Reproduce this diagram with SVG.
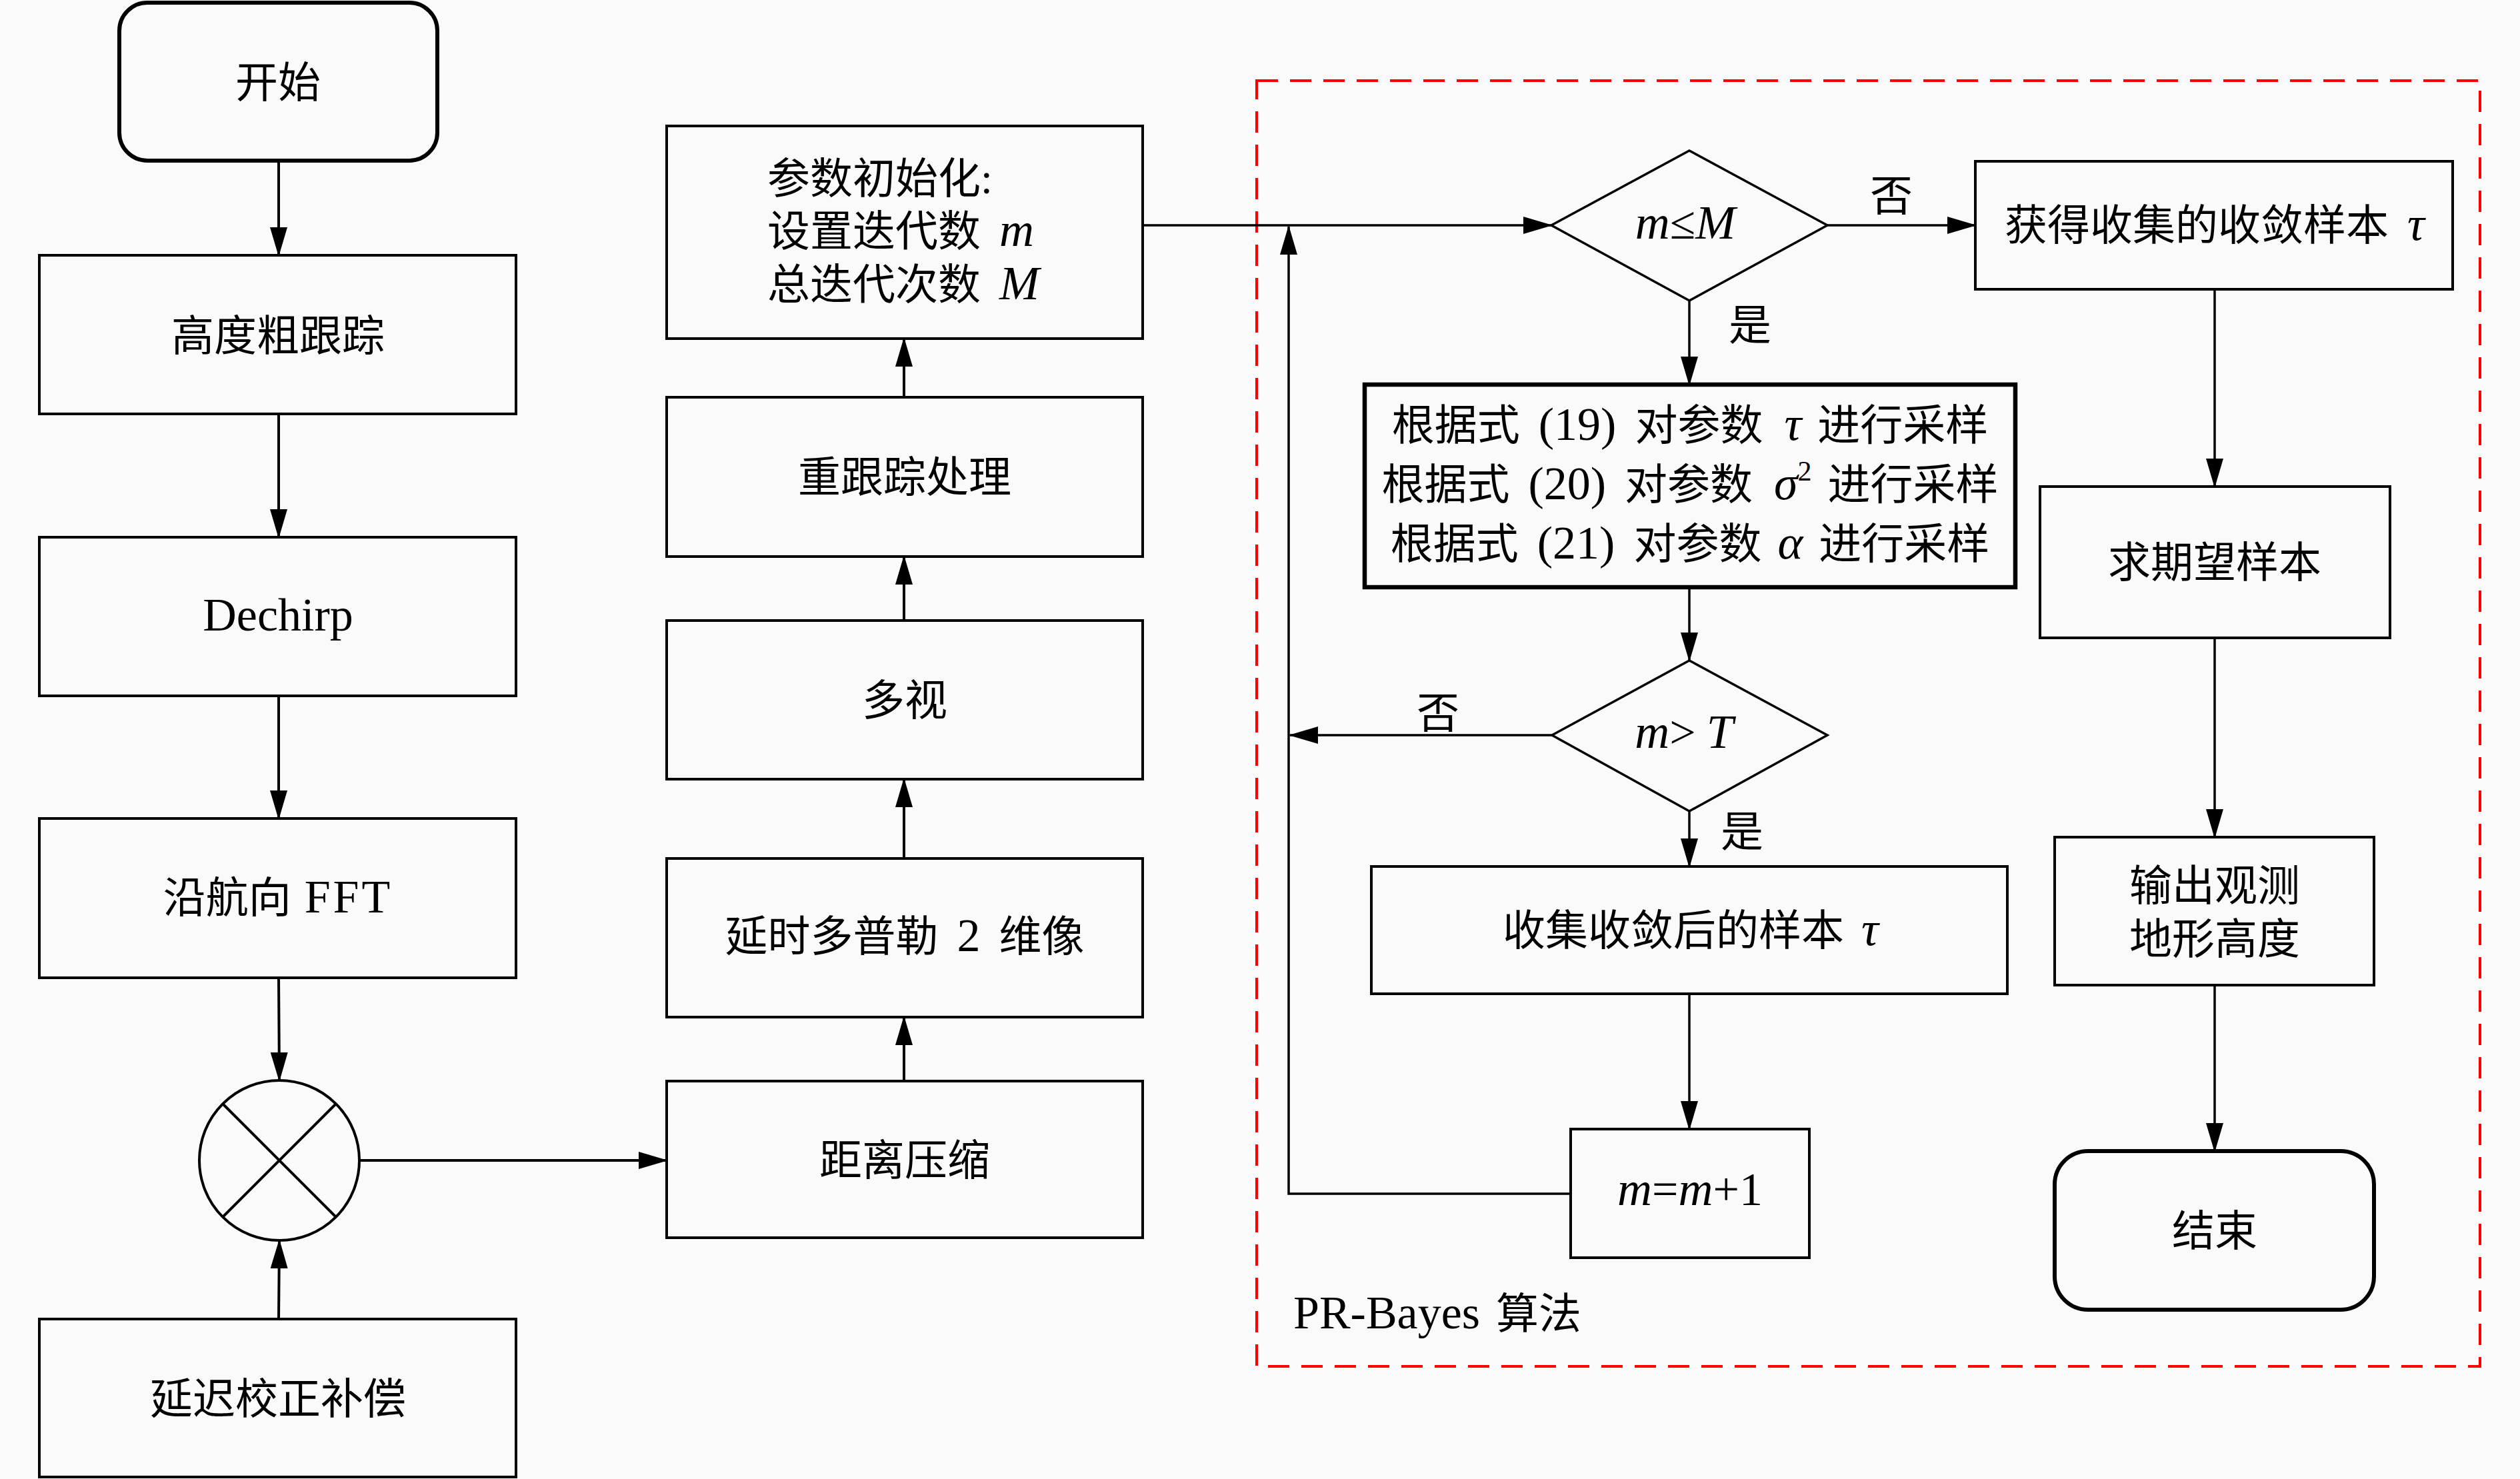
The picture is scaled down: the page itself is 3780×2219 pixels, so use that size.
<svg xmlns="http://www.w3.org/2000/svg" width="3780" height="2219" viewBox="0 0 3780 2219">
<style>
.t{font-family:"Liberation Serif","Noto Sans CJK SC",serif;font-size:64px;fill:#000;text-anchor:middle}
.s{text-anchor:start}
.i{font-style:italic;font-size:72px}
.L{font-size:70px}
.box{fill:none;stroke:#000;stroke-width:4}
.term{fill:none;stroke:#000;stroke-width:6}
.thick{fill:none;stroke:#000;stroke-width:6.5}
.dia{fill:none;stroke:#000;stroke-width:3.5}
.c{fill:none;stroke:#000;stroke-width:4}
.c2{fill:none;stroke:#000;stroke-width:3.5}
</style>
<defs>
<marker id="ah" markerUnits="userSpaceOnUse" viewBox="0 0 44 26" refX="42" refY="13" markerWidth="44" markerHeight="26" orient="auto">
<path d="M0,0 L44,13 L0,26 Z" fill="#000"/>
</marker>
</defs>
<rect width="3780" height="2219" fill="#fafafa"/>

<g id="algorithm-frame">
<rect x="1885" y="121" width="1835" height="1929" fill="none" stroke="#ff0000" stroke-width="4" stroke-dasharray="32 18"/>
<text class="t s" x="1940" y="1993"><tspan class="L">PR-Bayes</tspan> <tspan dx="8">算法</tspan></text>
</g>

<g id="start"><rect class="term" x="179" y="4" width="477" height="237" rx="42"/><text class="t" x="417" y="146">开始</text></g>
<g id="coarse-track"><rect class="box" x="59" y="383" width="715" height="238"/><text class="t" x="417" y="526">高度粗跟踪</text></g>
<g id="dechirp"><rect class="box" x="59" y="806" width="715" height="238"/><text class="t L" x="417" y="946">Dechirp</text></g>
<g id="azimuth-fft"><rect class="box" x="59" y="1228" width="715" height="239"/><text class="t" x="417" y="1369">沿航向 <tspan class="L" dx="4" letter-spacing="4">FFT</tspan></text></g>
<g id="multiplier"><circle class="box" cx="419" cy="1741" r="120"/><path class="box" d="M334,1656 L504,1826 M504,1656 L334,1826"/></g>
<g id="delay-comp"><rect class="box" x="59" y="1979" width="715" height="237"/><text class="t" x="417" y="2121">延迟校正补偿</text></g>

<g id="range-compress"><rect class="box" x="1000" y="1622" width="714" height="235"/><text class="t" x="1357" y="1763">距离压缩</text></g>
<g id="dd-image"><rect class="box" x="1000" y="1288" width="714" height="238"/><text class="t" x="1357" y="1427">延时多普勒 <tspan class="L" dx="12">2</tspan> <tspan dx="12">维像</tspan></text></g>
<g id="multilook"><rect class="box" x="1000" y="931" width="714" height="238"/><text class="t" x="1357" y="1073">多视</text></g>
<g id="retrack"><rect class="box" x="1000" y="596" width="714" height="239"/><text class="t" x="1357" y="738">重跟踪处理</text></g>
<g id="init"><rect class="box" x="1000" y="189" width="714" height="319"/>
<text class="t s" x="1151" y="290">参数初始化:</text>
<text class="t s" x="1151" y="369">设置迭代数 <tspan class="i" dx="12">m</tspan></text>
<text class="t s" x="1151" y="449">总迭代次数 <tspan class="i" dx="12">M</tspan></text>
</g>

<g id="cond-m-le-M"><path class="dia" d="M2534,226 L2741,338 L2534,451 L2327,338 Z"/><text class="t" x="2528" y="358"><tspan class="i">m</tspan><tspan class="L">≤</tspan><tspan class="i">M</tspan></text></g>
<g id="sampling"><rect class="thick" x="2047" y="577" width="976" height="304"/>
<text class="t" x="2535" y="660">根据式 <tspan class="L" dx="12">(19)</tspan> <tspan dx="12">对参数</tspan> <tspan class="i" dx="16">τ</tspan> <tspan dx="8">进行采样</tspan></text>
<text class="t" x="2535" y="749">根据式 <tspan class="L" dx="12">(20)</tspan> <tspan dx="12">对参数</tspan> <tspan class="i" dx="16">σ</tspan><tspan font-size="42" dy="-28">2</tspan><tspan dy="28" dx="8"> 进行采样</tspan></text>
<text class="t" x="2535" y="838">根据式 <tspan class="L" dx="12">(21)</tspan> <tspan dx="12">对参数</tspan> <tspan class="i" dx="8">α</tspan> <tspan dx="8">进行采样</tspan></text>
</g>
<g id="cond-m-gt-T"><path class="dia" d="M2534,991 L2741,1103 L2534,1217 L2328,1103 Z"/><text class="t" x="2526" y="1122"><tspan class="i">m</tspan><tspan class="L">&gt;</tspan> <tspan class="i">T</tspan></text></g>
<g id="collect"><rect class="box" x="2057" y="1300" width="954" height="191"/><text class="t" x="2536" y="1418">收集收敛后的样本 <tspan class="i" dx="10">τ</tspan></text></g>
<g id="increment"><rect class="box" x="2356" y="1694" width="358" height="193"/><text class="t" x="2535" y="1808"><tspan class="i">m</tspan><tspan class="L">=</tspan><tspan class="i">m</tspan><tspan class="L">+1</tspan></text></g>

<g id="get-samples"><rect class="box" x="2963" y="242" width="716" height="192"/><text class="t" x="3322" y="360">获得收集的收敛样本 <tspan class="i" dx="12">τ</tspan></text></g>
<g id="expectation"><rect class="box" x="3060" y="730" width="525" height="227"/><text class="t" x="3322" y="866">求期望样本</text></g>
<g id="output"><rect class="box" x="3082" y="1256" width="479" height="222"/><text class="t" x="3322" y="1351">输出观测</text><text class="t" x="3322" y="1431">地形高度</text></g>
<g id="end"><rect class="term" x="3082" y="1727" width="479" height="238" rx="50"/><text class="t" x="3322" y="1869">结束</text></g>

<g id="connectors">
<path class="c" d="M418,241 L418,383" marker-end="url(#ah)"/>
<path class="c" d="M418,621 L418,806" marker-end="url(#ah)"/>
<path class="c" d="M418,1044 L418,1228" marker-end="url(#ah)"/>
<path class="c" d="M418,1467 L419,1621" marker-end="url(#ah)"/>
<path class="c" d="M418,1979 L419,1861" marker-end="url(#ah)"/>
<path class="c" d="M539,1741 L1000,1741" marker-end="url(#ah)"/>
<path class="c" d="M1356,1622 L1356,1526" marker-end="url(#ah)"/>
<path class="c" d="M1356,1288 L1356,1169" marker-end="url(#ah)"/>
<path class="c" d="M1356,931 L1356,835" marker-end="url(#ah)"/>
<path class="c" d="M1356,596 L1356,508" marker-end="url(#ah)"/>
<path class="c2" d="M1714,338 L2327,338" marker-end="url(#ah)"/>
<path class="c2" d="M2741,338 L2963,338" marker-end="url(#ah)"/>
<text class="t" x="2837" y="316">否</text>
<path class="c2" d="M2534,451 L2534,577" marker-end="url(#ah)"/>
<text class="t" x="2625" y="510">是</text>
<path class="c2" d="M2534,881 L2534,991" marker-end="url(#ah)"/>
<path class="c2" d="M2328,1103 L1935,1103" marker-end="url(#ah)"/>
<text class="t" x="2157" y="1092">否</text>
<path class="c2" d="M2534,1217 L2534,1300" marker-end="url(#ah)"/>
<text class="t" x="2613" y="1270">是</text>
<path class="c2" d="M2534,1491 L2534,1694" marker-end="url(#ah)"/>
<path class="c2" d="M2356,1791 L1933,1791 L1933,340" marker-end="url(#ah)"/>
<path class="c2" d="M3322,434 L3322,730" marker-end="url(#ah)"/>
<path class="c2" d="M3322,957 L3322,1256" marker-end="url(#ah)"/>
<path class="c2" d="M3322,1478 L3322,1727" marker-end="url(#ah)"/>
</g>
</svg>
